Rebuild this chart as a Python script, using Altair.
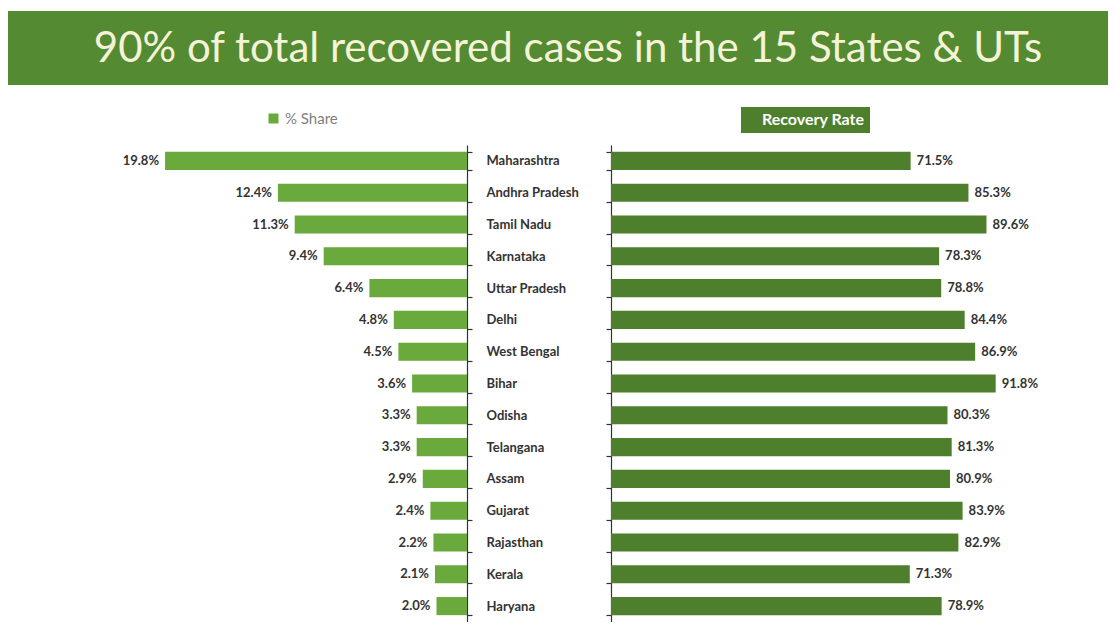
import altair as alt
import pandas as pd

title_text = "90% of total recovered cases in the 15 States & UTs"
states = ["Maharashtra", "Andhra Pradesh", "Tamil Nadu", "Karnataka", "Uttar Pradesh",
          "Delhi", "West Bengal", "Bihar", "Odisha", "Telangana", "Assam", "Gujarat",
          "Rajasthan", "Kerala", "Haryana"]
share = [19.8, 12.4, 11.3, 9.4, 6.4, 4.8, 4.5, 3.6, 3.3, 3.3, 2.9, 2.4, 2.2, 2.1, 2.0]
recovery = [71.5, 85.3, 89.6, 78.3, 78.8, 84.4, 86.9, 91.8, 80.3, 81.3, 80.9, 83.9, 82.9, 71.3, 78.9]
series_left = "% Share"
series_right = "Recovery Rate"

LIGHT = "#6aaa3c"
DARK = "#4e7f2c"
BANNER = "#538a32"
TXT = "#333333"
FONT = "Lato"

df = pd.DataFrame({"state": states, "share": share, "recovery": recovery,
                   "s1": series_left, "s2": series_right})

W_L, W_R, H = 459, 497, 477
PI = 0.43

yscale = alt.Scale(paddingInner=PI, paddingOuter=PI / 2)

base = alt.Chart(df)

# Left panel: % share, bars growing leftwards
left_y = alt.Y("state:N", sort=states, scale=yscale,
               axis=alt.Axis(orient="right", title=None, labelAlign="left", labelPadding=14,
                             tickSize=5, tickBand="extent", domainColor=TXT, tickColor=TXT,
                             tickWidth=1.2, domainWidth=1.2,
                             labelFontWeight="bold", labelFontSize=13, labelColor=TXT,
                             labelFont=FONT, grid=False))
left_x = alt.X("share:Q", scale=alt.Scale(domain=[0, 30.1], reverse=True), axis=None)

left_bars = base.mark_bar(color=LIGHT).encode(
    x=left_x, y=left_y,
    color=alt.Color("s1:N", scale=alt.Scale(range=[LIGHT]),
                    legend=alt.Legend(orient="none", legendX=258, legendY=-34, title=None,
                                      symbolType="square", symbolSize=100, symbolStrokeWidth=0,
                                      labelFontSize=15, labelColor="#808080", labelFont=FONT,
                                      labelOffset=4)))
left_text = base.mark_text(align="right", dx=-6, fontWeight="bold", fontSize=13,
                           color=TXT, font=FONT).transform_calculate(
    lab="format(datum.share, '.1f') + '%'").encode(x=left_x, y=left_y, text="lab:N")
left = alt.layer(left_bars, left_text).properties(width=W_L, height=H)

# Right panel: recovery rate
right_y = alt.Y("state:N", sort=states, scale=yscale,
                axis=alt.Axis(orient="left", title=None, labels=False, tickSize=5,
                              tickWidth=1.2, domainWidth=1.2,
                              tickBand="extent", domainColor=TXT, tickColor=TXT, grid=False))
right_x = alt.X("recovery:Q", scale=alt.Scale(domain=[0, 118.6]), axis=None)

right_bars = base.mark_bar(color=DARK).encode(
    x=right_x, y=right_y,
    color=alt.Color("s2:N", scale=alt.Scale(range=[DARK]),
                    legend=alt.Legend(orient="none", legendX=130, legendY=-38, title=None,
                                      fillColor=DARK, padding=5, symbolSize=0,
                                      symbolStrokeWidth=0, symbolOpacity=0, labelOffset=0,
                                      labelFontSize=16, labelColor="white",
                                      labelFontWeight="bold", labelFont=FONT)))
right_text = base.mark_text(align="left", dx=6, fontWeight="bold", fontSize=13,
                            color=TXT, font=FONT).transform_calculate(
    lab="format(datum.recovery, '.1f') + '%'").encode(x=right_x, y=right_y, text="lab:N")
right = alt.layer(right_bars, right_text).properties(width=W_R, height=H)

# Banner
tdf = pd.DataFrame({"t": [title_text]})
banner_rect = alt.Chart(tdf).mark_rect(color=BANNER).encode(
    x=alt.value(0), x2=alt.value(1100), y=alt.value(3), y2=alt.value(77))
banner_text = alt.Chart(tdf).mark_text(fontSize=42, color="#f5f3d7", font=FONT,
                                       baseline="middle", align="center").encode(
    x=alt.value(560), y=alt.value(41), text="t:N")
banner = alt.layer(banner_rect, banner_text).properties(width=1100, height=77)

row = alt.hconcat(left, right, spacing=144, bounds="flush").resolve_scale(
    color="independent").resolve_legend(color="independent")

chart = alt.vconcat(banner, row, spacing=60, bounds="flush").properties(
    padding=0, background="white").configure_view(strokeWidth=0, stroke="transparent")

chart.save("out.html", embed_options={"renderer": "svg", "actions": False})
